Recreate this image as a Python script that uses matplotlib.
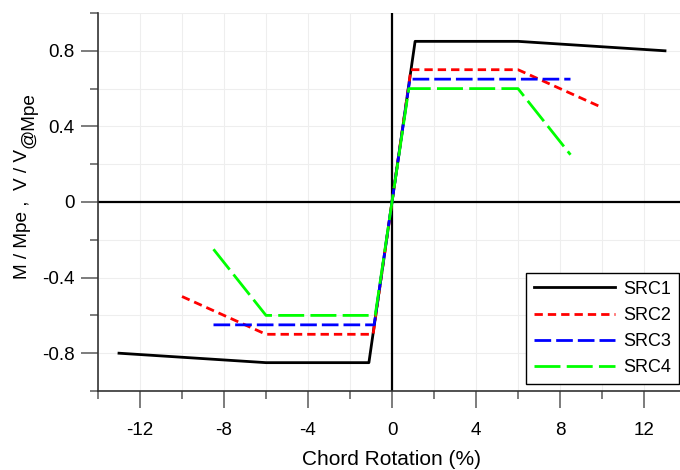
import matplotlib
matplotlib.use("Agg")
import matplotlib.pyplot as plt

plt.rcParams['font.family'] = ['Liberation Sans', 'DejaVu Sans']
plt.rcParams['lines.scale_dashes'] = False

# data
src1_x = [-13, -6, -1.1, 0, 1.1, 6, 13]
src1_y = [-0.80, -0.85, -0.85, 0, 0.85, 0.85, 0.80]
src2_x = [-10, -6, -0.9, 0, 0.9, 6, 10]
src2_y = [-0.50, -0.70, -0.70, 0, 0.70, 0.70, 0.50]
src3_x = [-8.5, -0.85, 0, 0.85, 8.5]
src3_y = [-0.65, -0.65, 0, 0.65, 0.65]
src4_x = [-8.5, -6, -0.8, 0, 0.8, 6, 8.5]
src4_y = [-0.25, -0.60, -0.60, 0, 0.60, 0.60, 0.25]

x_major = [-12, -8, -4, 0, 4, 8, 12]
x_minor = [-14, -10, -6, -2, 2, 6, 10, 14]
y_major = [-0.8, -0.4, 0, 0.4, 0.8]
y_minor = [-1.0, -0.6, -0.2, 0.2, 0.6, 1.0]
x_labels = ["-12", "-8", "-4", "0", "4", "8", "12"]
y_labels = ["-0.8", "-0.4", "0", "0.4", "0.8"]

W, H = 680, 470
fig = plt.figure(figsize=(6.8, 4.7), dpi=100)
ax = fig.add_axes([98/W, 79/H, (686-98)/W, (391-13)/H])
ax.set_xlim(-14, 14)
ax.set_ylim(-1.0, 1.0)

ax.set_xticks(x_major)
ax.set_xticklabels(x_labels)
ax.set_xticks(x_minor, minor=True)
ax.set_yticks(y_major)
ax.set_yticklabels(y_labels)
ax.set_yticks(y_minor, minor=True)
ax.grid(True, which='both', color='#eeeeee', lw=0.8, zorder=0)
ax.set_axisbelow(True)

ax.tick_params(which='major', length=12, width=1.2, color='#666666', labelsize=13.5, pad=5)
ax.tick_params(which='minor', length=6, width=1.2, color='#666666')
ax.tick_params(axis='x', which='major', pad=10)

for s in ['top', 'right']:
    ax.spines[s].set_visible(False)
for s in ['left', 'bottom']:
    ax.spines[s].set_color('#333333')
    ax.spines[s].set_linewidth(1.2)

ax.axhline(0, color='black', lw=1.6, zorder=1)
ax.axvline(0, color='black', lw=1.6, zorder=1)

lw = 2.0
ax.plot(src1_x, src1_y, color='black', lw=lw, label='SRC1', zorder=3)
ax.plot(src2_x, src2_y, color='#ff0000', lw=lw, dashes=(6.0, 3.6), label='SRC2', zorder=3)
ax.plot(src3_x, src3_y, color='#0000ff', lw=lw, dashes=(12.0, 3.6), label='SRC3', zorder=3)
ax.plot(src4_x, src4_y, color='#00ff00', lw=lw, dashes=(18.7, 4.5), label='SRC4', zorder=3)

leg = ax.legend(loc='lower right', bbox_to_anchor=(679/W, (H-384)/H),
                bbox_transform=fig.transFigure, fontsize=13, frameon=True,
                fancybox=False, edgecolor='black', handlelength=4.5, handletextpad=0.45,
                labelspacing=0.5, borderpad=0.45, borderaxespad=0, framealpha=1)
leg.get_frame().set_linewidth(1.0)

ax.set_xlabel("Chord Rotation (%)", fontsize=15, labelpad=8)
fig.text(23/W, 1 - 149/H, "M / Mpe ,  V / V", rotation=90, fontsize=13.7,
         ha='center', va='top')
fig.text(29/W, 1 - 148/H, "@Mpe", rotation=90, fontsize=13.7, ha='center', va='bottom')

fig.savefig("out.png", dpi=100)
